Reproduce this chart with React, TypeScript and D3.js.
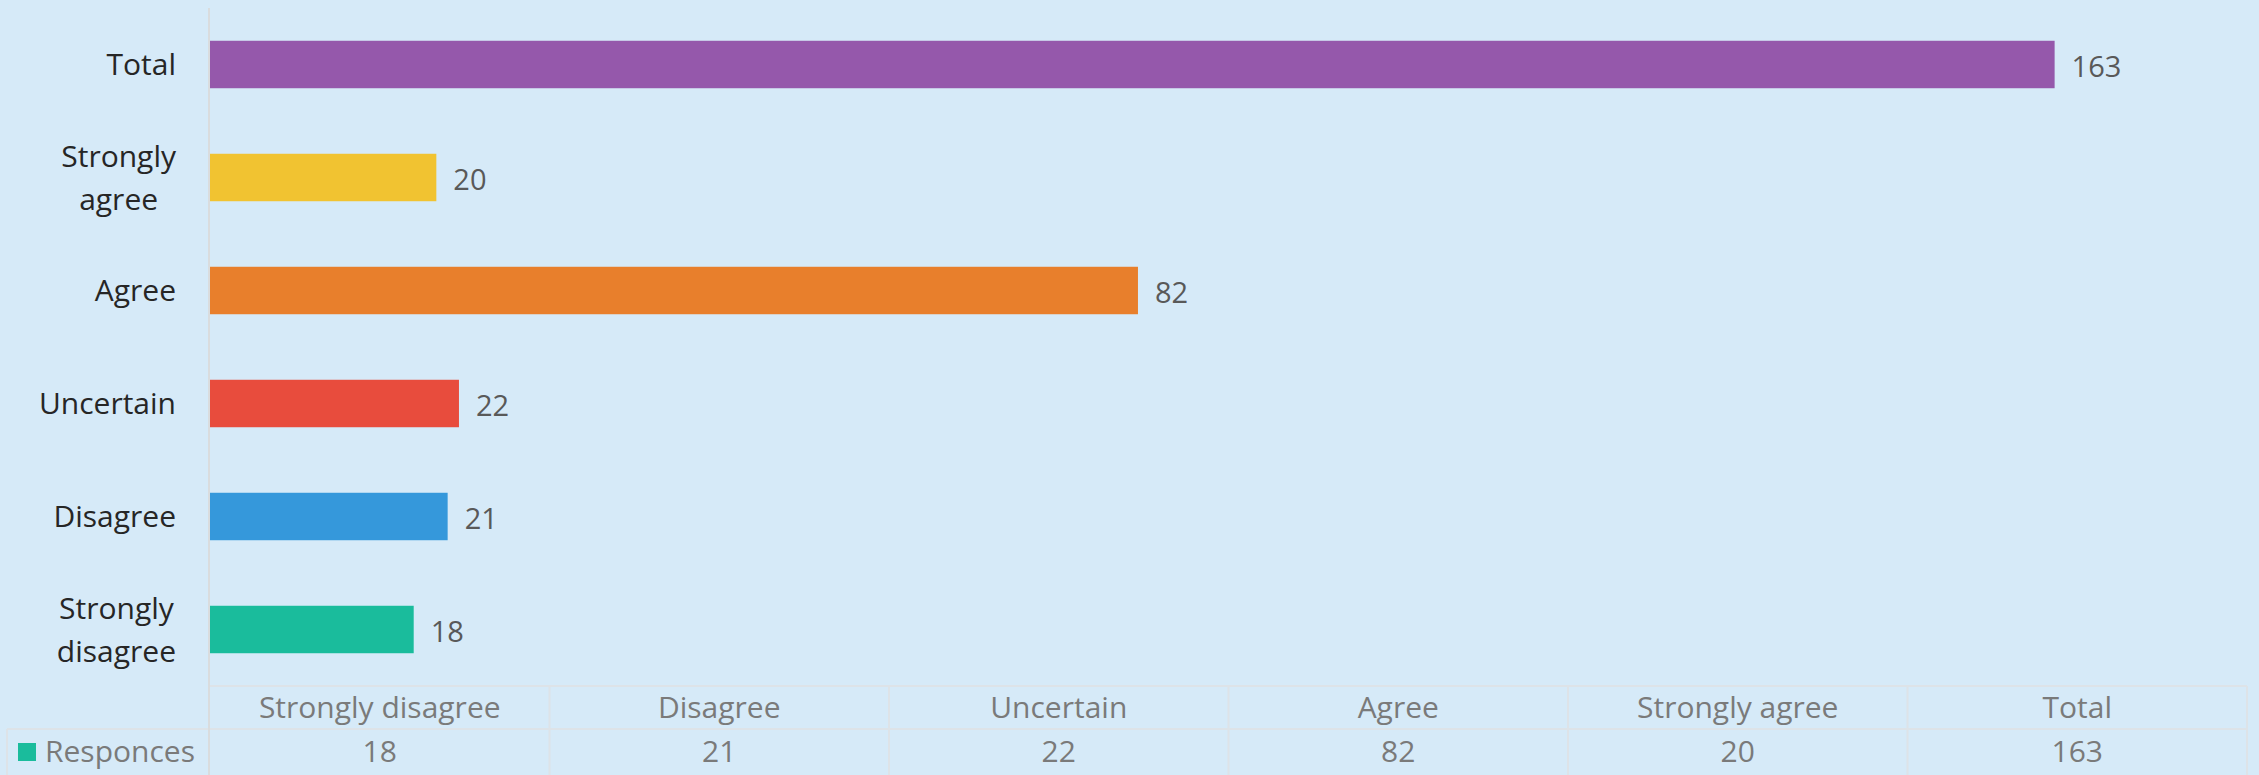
import { useEffect, useRef } from 'react'
import * as d3 from 'd3'

const categories = ['Strongly disagree', 'Disagree', 'Uncertain', 'Agree', 'Strongly agree', 'Total']
const responses = [18, 21, 22, 82, 20, 163]
const barColors = ['#1abc9c', '#3598db', '#e84c3d', '#e87f2c', '#f1c331', '#9558ab']
const seriesName = 'Responces'
const xMax = 180

const W = 2259
const H = 775
const margin = { top: 8, right: 12, bottom: 89, left: 210 }
const FONT = '"Open Sans", "Noto Sans", sans-serif'
const FS = 30

export default function App() {
  const svgRef = useRef<SVGSVGElement>(null)

  useEffect(() => {
    if (!svgRef.current) return
    const svg = d3.select(svgRef.current)
    svg.selectAll('*').remove()

    const x0 = margin.left
    const x1 = W - margin.right
    const plotBottom = H - margin.bottom

    svg.append('rect').attr('width', W).attr('height', H).attr('fill', '#d6eaf8')

    const x = d3.scaleLinear().domain([0, xMax]).range([x0, x1])
    const y = d3.scaleBand<string>()
      .domain([...categories].reverse())
      .range([margin.top, plotBottom])
      .paddingInner(0.58)
      .paddingOuter(0.29)

    const rows = categories.map((c, i) => ({ c, v: responses[i], color: barColors[i] }))

    // bars
    svg.append('g')
      .selectAll('rect')
      .data(rows)
      .enter()
      .append('rect')
      .attr('x', x(0))
      .attr('y', d => y(d.c)!)
      .attr('width', d => x(d.v) - x(0))
      .attr('height', y.bandwidth())
      .attr('fill', d => d.color)

    // value labels
    svg.append('g')
      .selectAll('text')
      .data(rows)
      .enter()
      .append('text')
      .attr('x', d => x(d.v) + 17)
      .attr('y', d => y(d.c)! + y.bandwidth() / 2 + 2)
      .attr('dy', '0.36em')
      .attr('fill', '#595959')
      .attr('font-family', FONT)
      .attr('font-size', 29)
      .text(d => d.v)

    // category labels (wrapped, centred lines, right aligned block)
    const labelRight = 176
    rows.forEach(d => {
      const words = d.c.split(' ')
      const lines = words.length > 1 ? words : [d.c]
      const cy = y(d.c)! + y.bandwidth() / 2
      const g = svg.append('g')
      const texts = lines.map((ln, i) =>
        g.append('text')
          .attr('y', cy + (i - (lines.length - 1) / 2) * 43)
          .attr('dy', '0.36em')
          .attr('fill', '#262626')
          .attr('font-family', FONT)
          .attr('font-size', FS)
          .attr('text-anchor', 'middle')
          .text(ln)
      )
      const widths = texts.map(t => (t.node() as SVGTextElement).getComputedTextLength())
      const maxW = Math.max(...widths)
      texts.forEach(t => t.attr('x', labelRight - maxW / 2))
    })

    // data table
    const grid = '#dde3e8'
    const headTop = plotBottom
    const rowH = 43
    const valTop = headTop + rowH
    const colW = (x1 - x0) / categories.length
    const tbl = svg.append('g')

    tbl.append('line').attr('x1', x0).attr('x2', x1).attr('y1', headTop).attr('y2', headTop)
      .attr('stroke', grid).attr('stroke-width', 2)
    tbl.append('line').attr('x1', 7).attr('x2', x1).attr('y1', valTop).attr('y2', valTop)
      .attr('stroke', grid).attr('stroke-width', 2)
    tbl.append('line').attr('x1', 7).attr('x2', 7).attr('y1', valTop).attr('y2', H)
      .attr('stroke', grid).attr('stroke-width', 2)
    d3.range(1, categories.length + 1).forEach(i => {
      tbl.append('line')
        .attr('x1', x0 + i * colW).attr('x2', x0 + i * colW)
        .attr('y1', headTop).attr('y2', H)
        .attr('stroke', grid).attr('stroke-width', 2)
    })

    categories.forEach((c, i) => {
      const cx = x0 + (i + 0.5) * colW
      tbl.append('text')
        .attr('x', cx).attr('y', headTop + rowH / 2).attr('dy', '0.36em')
        .attr('text-anchor', 'middle')
        .attr('fill', '#7a7a7a')
        .attr('font-family', FONT).attr('font-size', FS)
        .text(c)
      tbl.append('text')
        .attr('x', cx).attr('y', valTop + rowH / 2 + 1).attr('dy', '0.36em')
        .attr('text-anchor', 'middle')
        .attr('fill', '#7a7a7a')
        .attr('font-family', FONT).attr('font-size', FS)
        .text(responses[i])
    })

    // legend key
    tbl.append('rect')
      .attr('x', 18).attr('y', valTop + 14).attr('width', 18).attr('height', 18)
      .attr('fill', barColors[0])
    tbl.append('text')
      .attr('x', 45).attr('y', valTop + rowH / 2 + 1).attr('dy', '0.36em')
      .attr('fill', '#7a7a7a')
      .attr('font-family', FONT).attr('font-size', FS)
      .text(seriesName)

    // vertical axis line
    svg.append('line')
      .attr('x1', x0 - 1).attr('x2', x0 - 1)
      .attr('y1', margin.top).attr('y2', H)
      .attr('stroke', '#d9dcde').attr('stroke-width', 2)
  }, [])

  return (
    <svg
      ref={svgRef}
      width={W}
      height={H}
      style={{ position: 'absolute', left: 0, top: 0, display: 'block' }}
    />
  )
}
